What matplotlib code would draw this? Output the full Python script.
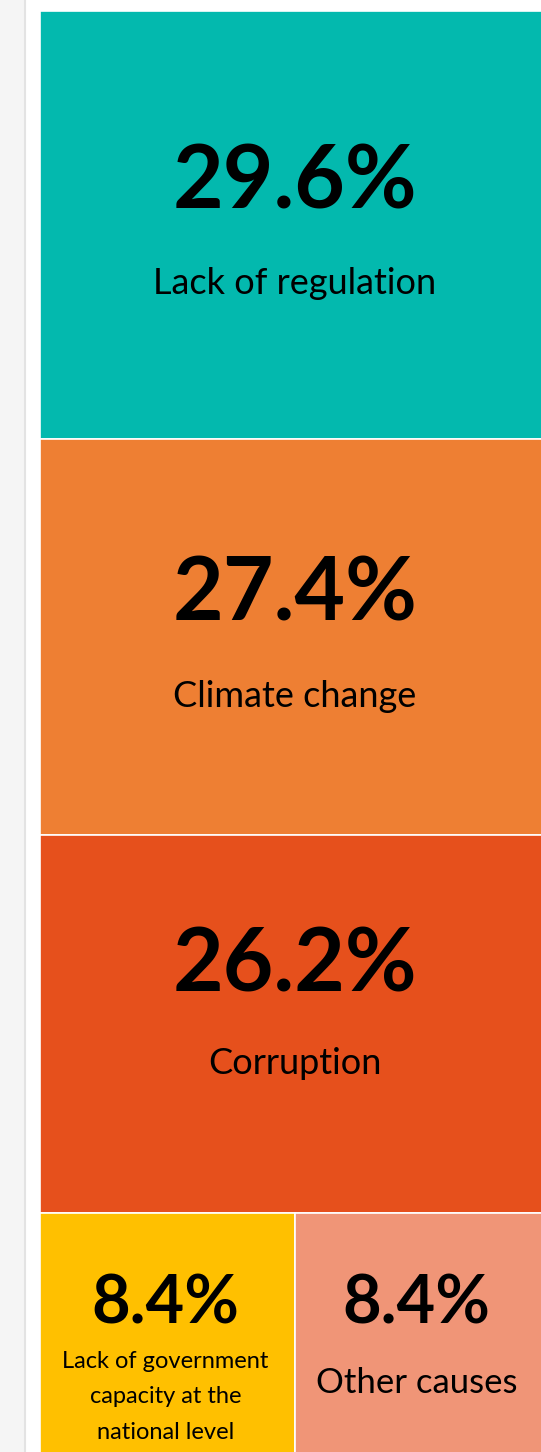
import matplotlib.pyplot as plt
from matplotlib.patches import Rectangle

# Data
causes = ["Lack of regulation", "Climate change", "Corruption",
          "Lack of government\ncapacity at the\nnational level", "Other causes"]
shares = [29.6, 27.4, 26.2, 8.4, 8.4]
colors = ["#03B9AE", "#EE7F33", "#E6501C", "#FFC000", "#F09577"]
rows = [[0], [1], [2], [3, 4]]   # slice-and-dice grouping

W, H = 541, 1452
fig = plt.figure(figsize=(W / 100, H / 100), dpi=100)
ax = fig.add_axes([0, 0, 1, 1])
ax.set_xlim(0, W)
ax.set_ylim(H, 0)
ax.axis("off")

# page strip on the left
ax.add_patch(Rectangle((0, 0), 24, H, color="#F5F5F5", lw=0))
ax.plot([24.5, 24.5], [0, H], color="#E3E3E3", lw=1.5)

# treemap area (pixels)
x0, y0, tw, th = 40, 11, 510, 1445
total = sum(shares)

# text styles per cell: (pct size, label size, pct baseline offset, label offset, y nudge, x nudge)
styles = {0: (63, 26, -16, 69, 0, 0),
          1: (63, 26, -16, 70, 0, 0),
          2: (63, 26, -16, 66, -16, 0),
          3: (48, 17, -11, 16, 0, -2),
          4: (48, 25, -11, 58, 0, -6)}

y = y0
for row in rows:
    rsum = sum(shares[i] for i in row)
    rh = th * rsum / total
    x = x0
    for i in row:
        cw = tw * shares[i] / rsum
        ax.add_patch(Rectangle((x, y), cw, rh, facecolor=colors[i],
                               edgecolor="white", lw=1.2))
        psz, lsz, poff, loff, nudge, xn = styles[i]
        cx, cy = x + cw / 2 + xn, y + rh / 2
        ax.text(cx, cy + poff + nudge, f"{shares[i]:.1f}%", fontsize=psz,
                fontweight="bold", family="Lato", ha="center", va="baseline",
                color="black")
        if "\n" in causes[i]:
            ax.text(cx, cy + loff, causes[i], fontsize=lsz, family="Lato",
                    ha="center", va="top", linespacing=1.85, color="black")
        else:
            ax.text(cx, cy + loff + nudge, causes[i], fontsize=lsz, family="Lato",
                    ha="center", va="baseline", color="black")
        x += cw
    y += rh

fig.savefig("out.png", dpi=100)
